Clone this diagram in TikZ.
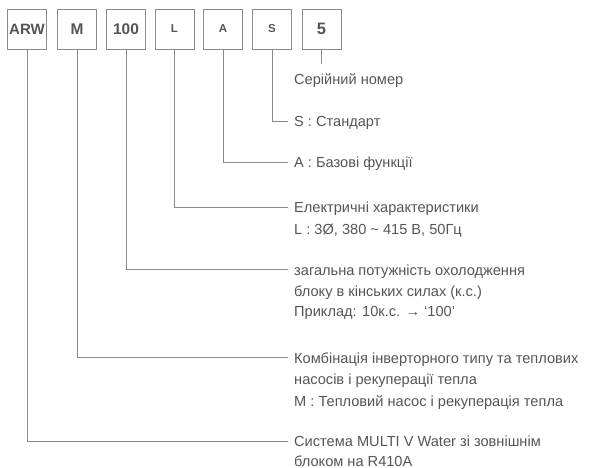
\documentclass[tikz,border=0pt]{standalone}
\usepackage{fontspec}
\setmainfont{Liberation Sans}
\definecolor{txt}{HTML}{555555}
\definecolor{ln}{HTML}{8A8A8A}
\begin{document}
\begin{tikzpicture}[x=1pt,y=-1pt,
  codebox/.style={draw=ln,line width=0.8pt,minimum width=39pt,minimum height=40pt,inner sep=0pt,text=txt,font=\bfseries},
  desc/.style={anchor=base west,inner sep=0pt,text=txt,font=\fontsize{14.6}{16}\selectfont},
  conn/.style={draw=ln,line width=0.8pt}]
\useasboundingbox (0,0) rectangle (595,468);
% code boxes
\node[codebox,font=\bfseries\fontsize{15}{16}\selectfont] (arw) at (27,29) {ARW};
\node[codebox,font=\bfseries\fontsize{15.5}{16}\selectfont] (m) at (77,29) {M};
\node[codebox,font=\bfseries\fontsize{15.5}{16}\selectfont] (hp) at (126,29) {100};
\node[codebox,font=\bfseries\fontsize{11.5}{12}\selectfont] (l) at (174.5,29) {L};
\node[codebox,font=\bfseries\fontsize{11.5}{12}\selectfont] (a) at (223,29) {A};
\node[codebox,font=\bfseries\fontsize{11.5}{12}\selectfont] (s) at (272,29) {S};
\node[codebox,font=\bfseries\fontsize{16.5}{17}\selectfont] (n5) at (321.5,29) {5};
% connector end points
\coordinate (e5) at (321.5,64);
\coordinate (es) at (288,121);
\coordinate (ea) at (288,162);
\coordinate (el) at (288,207);
\coordinate (ehp) at (288,269.5);
\coordinate (em) at (288,357);
\coordinate (earw) at (288,441);
% connectors
\draw[conn] (n5.south) -- (e5);
\draw[conn] (s.south) |- (es);
\draw[conn] (a.south) |- (ea);
\draw[conn] (l.south) |- (el);
\draw[conn] (hp.south) |- (ehp);
\draw[conn] (m.south) |- (em);
\draw[conn] (arw.south) |- (earw);
% descriptions
\node[desc] (t5) at (294,85) {Серійний номер};
\node[desc] (ts) at (294,127) {S : Стандарт};
\node[desc] (ta) at (294,168) {A : Базові функції};
\node[desc] (tl1) at (294,213) {Електричні характеристики};
\node[desc] (tl2) at (294,235) {L : 3Ø, 380 \textasciitilde\ 415 В, 50Гц};
\node[desc] (th1) at (294,276) {загальна потужність охолодження};
\node[desc] (th2) at (294,296) {блоку в кінських силах (к.с.)};
\node[desc] (th3) at (294,316) {Приклад: 10к.с. → ‘100’};
\node[desc] (tm1) at (294,363) {Комбінація інверторного типу та теплових};
\node[desc] (tm2) at (294,384.5) {насосів і рекуперації тепла};
\node[desc] (tm3) at (294,406) {M : Тепловий насос і рекуперація тепла};
\node[desc] (ta1) at (294,446) {Система MULTI V Water зі зовнішнім};
\node[desc] (ta2) at (294,466) {блоком на R410A};
\end{tikzpicture}
\end{document}
